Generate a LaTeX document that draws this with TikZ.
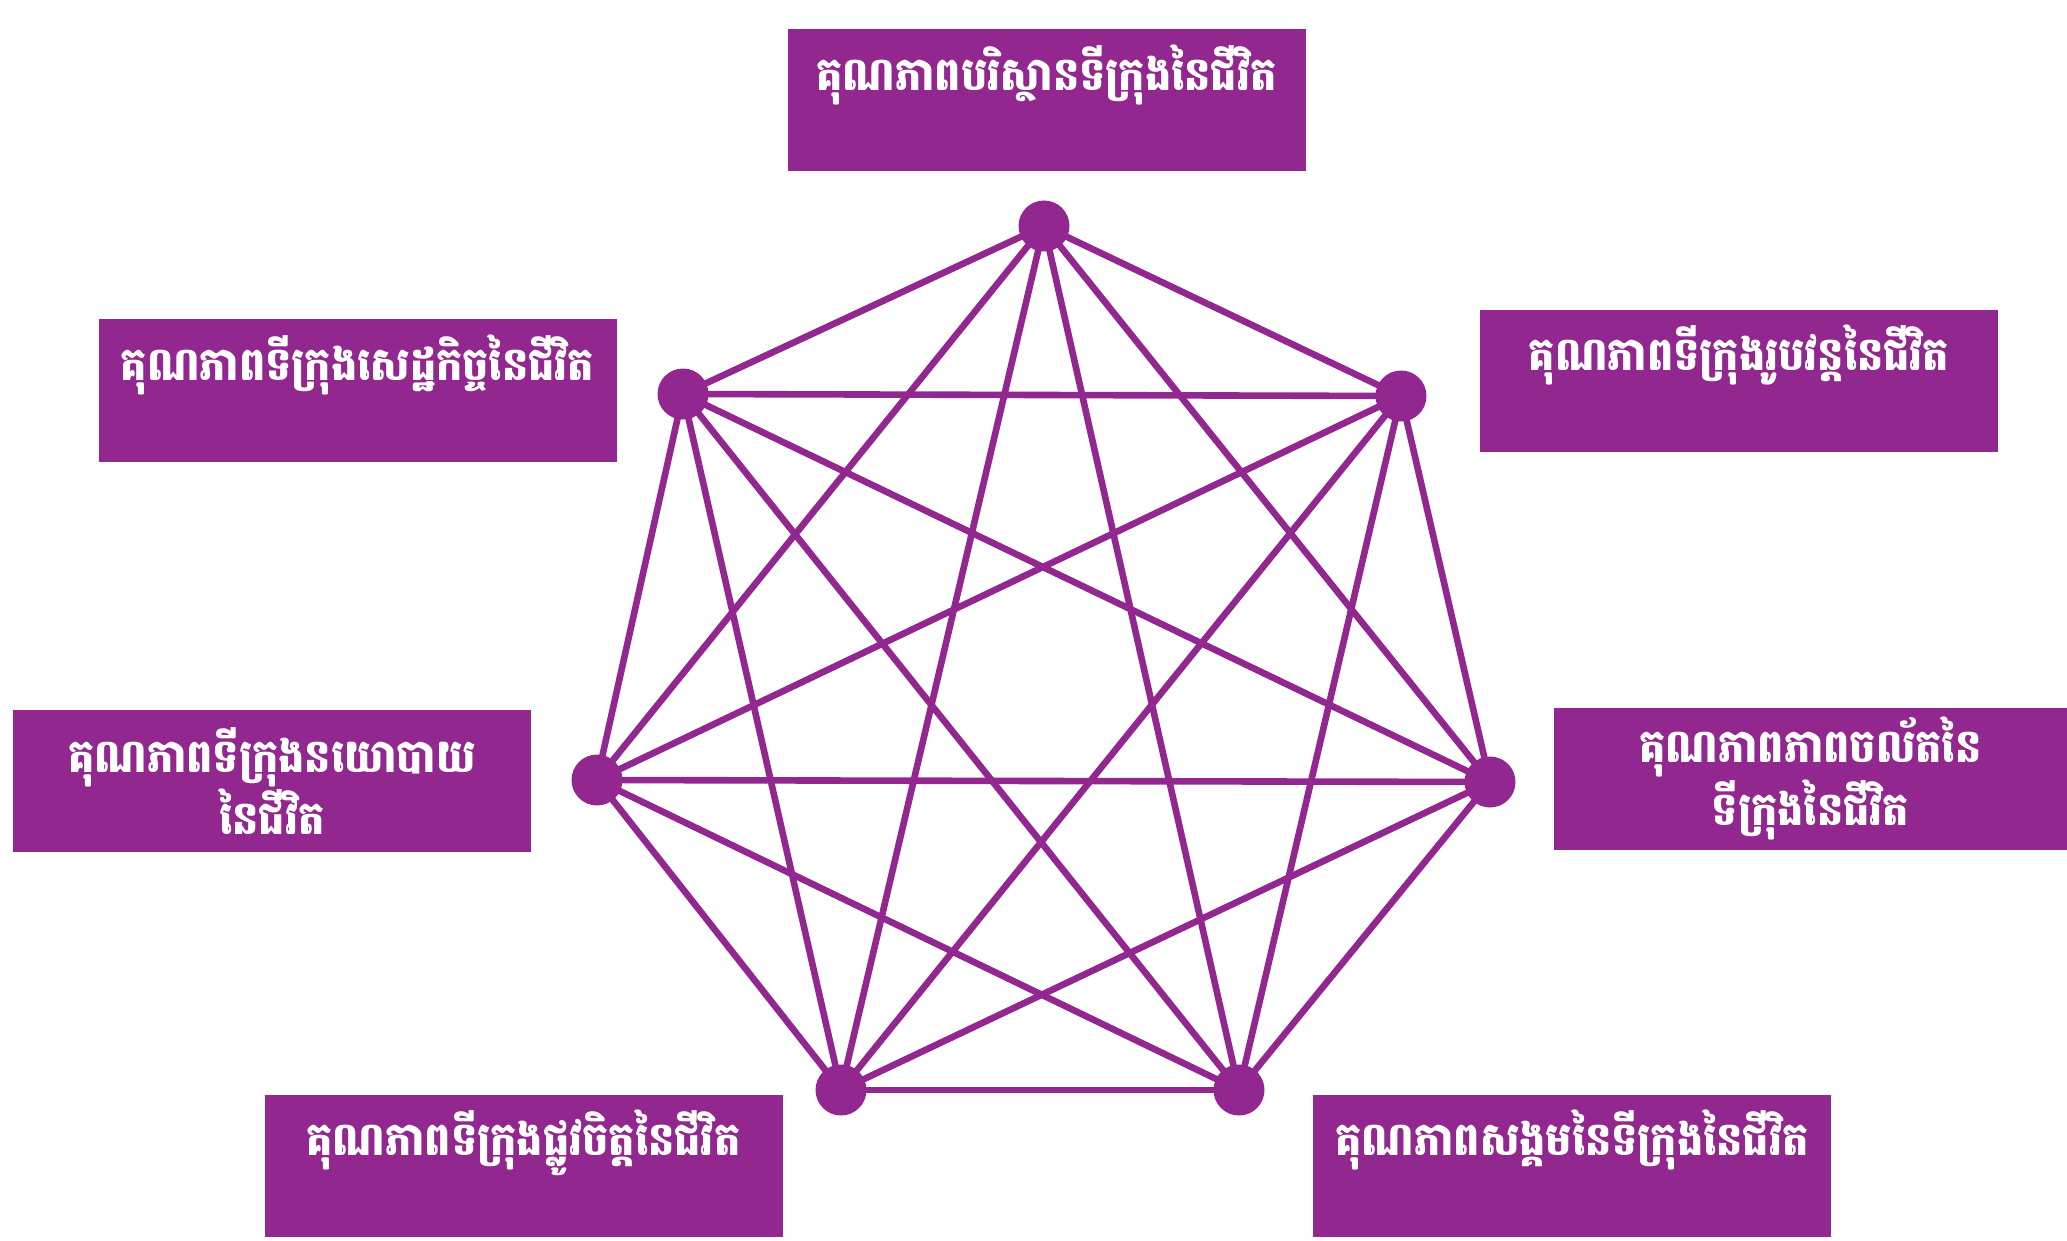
\documentclass[tikz,border=0pt]{standalone}
\usepackage{fontspec}
\newfontfamily\khmer[Script=Khmer, FakeStretch=0.9]{Battambang}
\definecolor{kpurple}{HTML}{92278F}

\begin{document}
\begin{tikzpicture}[x=0.5pt, y=-0.5pt,
    box/.style={fill=kpurple, minimum width=259pt, minimum height=71pt, inner sep=0pt,
        text=white, align=center, font=\khmer\bfseries\fontsize{23}{27}\selectfont},
    edge/.style={kpurple, line width=3.3pt},
    dot/.style={circle, fill=kpurple, minimum size=25.5pt, inner sep=0pt}]
    \useasboundingbox (0,0) rectangle (2067,1241);

    % Вершины
    \coordinate (v1) at (1044,226);
    \coordinate (v2) at (683,394);
    \coordinate (v3) at (1401,396);
    \coordinate (v4) at (597,780);
    \coordinate (v5) at (1490,782);
    \coordinate (v6) at (841,1090);
    \coordinate (v7) at (1239,1090);

    % Рёбра
    \draw[edge] (v1) -- (v2) (v1) -- (v3) (v1) -- (v4) (v1) -- (v5) (v1) -- (v6) (v1) -- (v7);
    \draw[edge] (v2) -- (v3) (v2) -- (v4) (v2) -- (v5) (v2) -- (v6) (v2) -- (v7);
    \draw[edge] (v3) -- (v4) (v3) -- (v5) (v3) -- (v6) (v3) -- (v7);
    \draw[edge] (v4) -- (v5) (v4) -- (v6) (v4) -- (v7);
    \draw[edge] (v5) -- (v6) (v5) -- (v7);
    \draw[edge] (v6) -- (v7);

    % Точки
    \node[dot] (d1) at (v1) {};
    \node[dot] (d2) at (v2) {};
    \node[dot] (d3) at (v3) {};
    \node[dot] (d4) at (v4) {};
    \node[dot] (d5) at (v5) {};
    \node[dot] (d6) at (v6) {};
    \node[dot] (d7) at (v7) {};

    % Подписи
    \node[box] (envbox) at (1046.5,100.5) {គុណភាពបរិស្ថានទីក្រុងនៃជីវិត\\[6pt] \mbox{}};
    \node[box] (ecobox) at (357.5,390.5) {គុណភាពទីក្រុងសេដ្ឋកិច្ចនៃជីវិត\\[6pt] \mbox{}};
    \node[box] (phybox) at (1739,381) {គុណភាពទីក្រុងរូបវន្តនៃជីវិត\\[6pt] \mbox{}};
    \node[box] (polbox) at (272,781) {គុណភាពទីក្រុងនយោបាយ\\នៃជីវិត};
    \node[box, minimum width=256.5pt] (mobbox) at (1810.5,778.5) {គុណភាពភាពចល័តនៃ\\ទីក្រុងនៃជីវិត};
    \node[box] (psybox) at (523.5,1165.5) {គុណភាពទីក្រុងផ្លូវចិត្តនៃជីវិត\\[6pt] \mbox{}};
    \node[box] (socbox) at (1572,1165.5) {គុណភាពសង្គមនៃទីក្រុងនៃជីវិត\\[6pt] \mbox{}};
\end{tikzpicture}
\end{document}
